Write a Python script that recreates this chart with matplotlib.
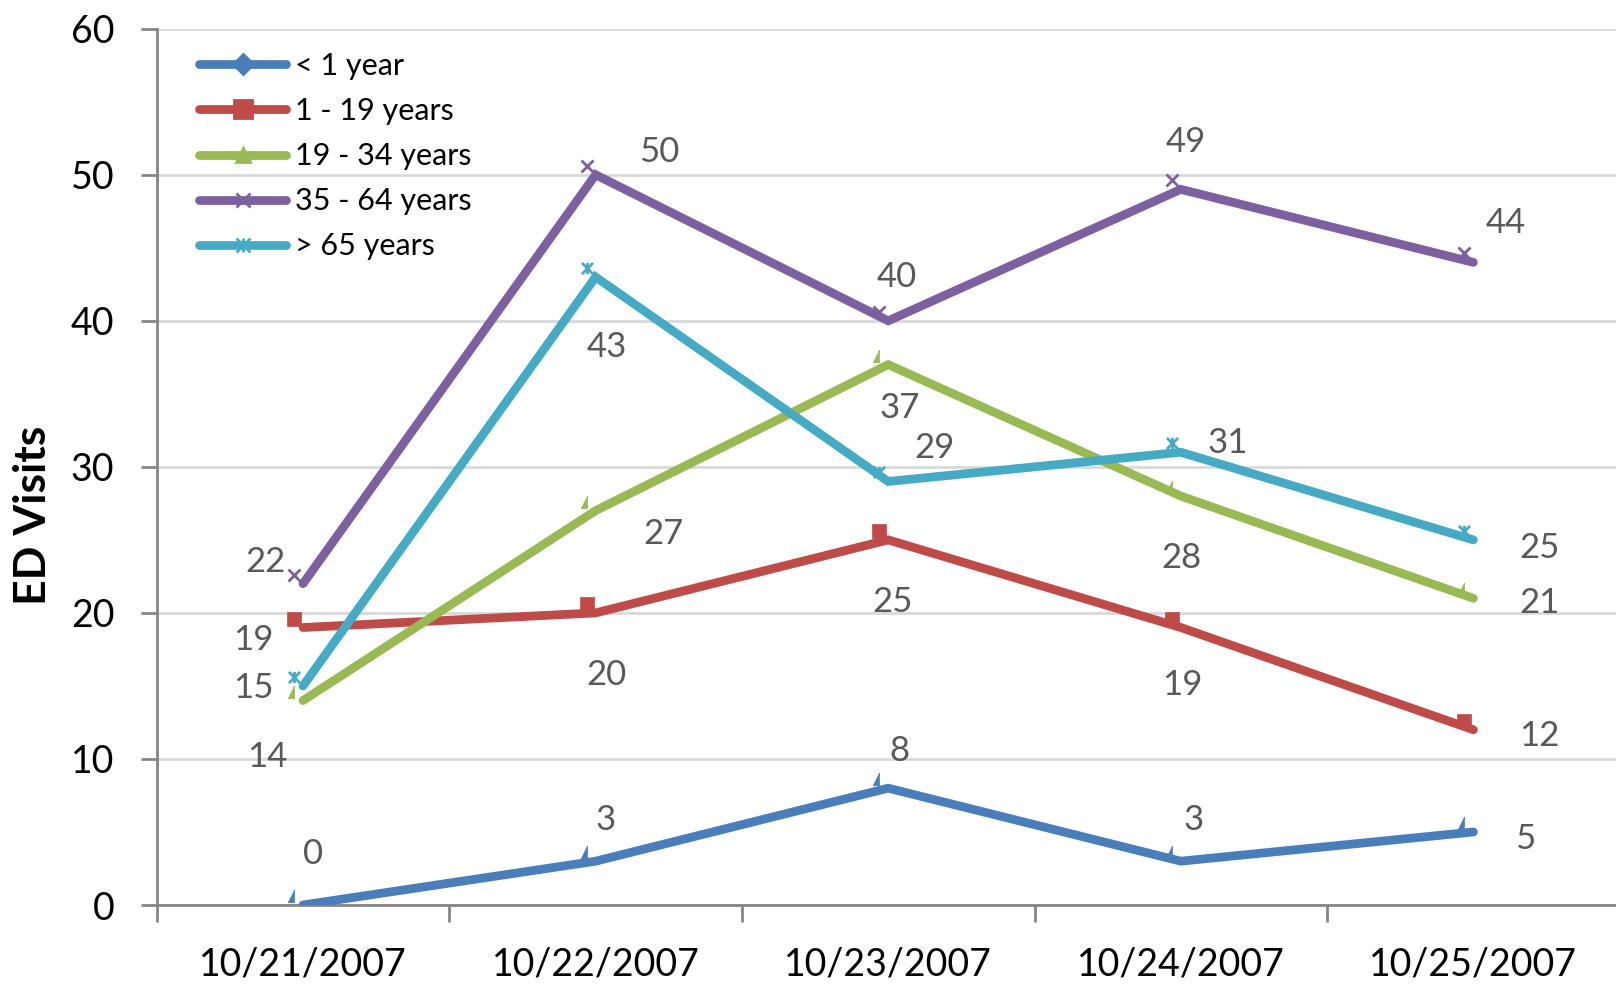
import matplotlib
matplotlib.use("Agg")
import matplotlib.pyplot as plt
from matplotlib.lines import Line2D
from matplotlib.path import Path
from matplotlib.transforms import ScaledTranslation

# ---- data ----
dates = ["10/21/2007", "10/22/2007", "10/23/2007", "10/24/2007", "10/25/2007"]
series_names = ["< 1 year", "1 - 19 years", "19 - 34 years", "35 - 64 years", "> 65 years"]
under_1 = [0, 3, 8, 3, 5]
age_1_19 = [19, 20, 25, 19, 12]
age_19_34 = [14, 27, 37, 28, 21]
age_35_64 = [22, 50, 40, 49, 44]
over_65 = [15, 43, 29, 31, 25]
y_ticks = [0, 10, 20, 30, 40, 50, 60]

series_values = [under_1, age_1_19, age_19_34, age_35_64, over_65]
colors = ["#4A7EBB", "#BE4B48", "#98B954", "#7D60A0", "#46AAC5"]

# label offsets (pixels, right / up) for each series point
label_offsets = [
    [(10, 50), (10, 40), (11, 36), (12, 40), (50, -7)],
    [(-48, -12), (11, -60), (4, -60), (1, -56), (64, -6)],
    [(-35, -55), (66, -23), (11, -42), (1, -60), (64, -5)],
    [(-36, 21), (62, 22), (8, 43), (5, 46), (31, 38)],
    [(-48, -2), (11, -68), (45, 32), (46, 9), (64, -8)],
]

# chart markers (partially hidden corner shapes, drawn just up-left of each vertex)
corner_tri = [(0, 1), (0, -1), (-1, -1), (0, 1)]
star_path = Path([(-1, -1), (1, 1), (-1, 1), (1, -1), (0, -1), (0, 1)],
                 [Path.MOVETO, Path.LINETO, Path.MOVETO, Path.LINETO, Path.MOVETO, Path.LINETO])
plot_markers = [corner_tri, "s", corner_tri, "x", star_path]
plot_msizes = [9, 10, 9, 8, 8]
legend_markers = ["D", "s", "^", "x", star_path]
legend_msizes = [10, 13, 10, 10, 10]

plt.rcParams["font.family"] = ["Lato", "DejaVu Sans"]

fig = plt.figure(figsize=(16.16, 9.94), dpi=100)
ax = fig.add_axes([156.7 / 1616, (994 - 905) / 994, 1463 / 1616, (905 - 28.7) / 994])

x = list(range(len(dates)))
dpi = fig.dpi
shift = ScaledTranslation(-9 / dpi, 9 / dpi, fig.dpi_scale_trans)

for vals, col, mk, ms in zip(series_values, colors, plot_markers, plot_msizes):
    ax.plot(x, vals, color=col, lw=6.3, solid_capstyle="round", solid_joinstyle="miter", zorder=4)
    filled = mk != "x" and not isinstance(mk, Path)
    ax.plot(x, vals, ls="none", marker=mk, markersize=ms,
            markerfacecolor=col if filled else "none", markeredgecolor=col,
            markeredgewidth=2 if not filled else 0.5,
            transform=ax.transData + shift, zorder=3, clip_on=False)

for vals, offs in zip(series_values, label_offsets):
    for xi, v, (dx, dy) in zip(x, vals, offs):
        ax.annotate(str(v), (xi, v), xytext=(dx * 1.03, dy * 1.03), textcoords="offset pixels",
                    ha="center", va="center", fontsize=25, color="#595959", zorder=5)

ax.set_xlim(-0.5, 4.5)
ax.set_ylim(0, 60)
ax.set_yticks(y_ticks)
ax.set_yticklabels([str(t) for t in y_ticks])
ax.set_xticks([i - 0.5 for i in range(len(dates) + 1)])
ax.set_xticklabels([])
ax.set_xticks(x, minor=True)
ax.set_xticklabels(dates, minor=True)

ax.grid(axis="y", color="#D9D9D9", lw=2, zorder=0)
ax.set_axisbelow(True)
for side in ["top", "right"]:
    ax.spines[side].set_visible(False)
for side in ["left", "bottom"]:
    ax.spines[side].set_color("#868686")
    ax.spines[side].set_linewidth(2)
ax.tick_params(axis="y", which="major", length=11.5, width=2, color="#868686",
               labelsize=27, pad=19, labelcolor="black")
ax.tick_params(axis="x", which="major", length=12, width=2, color="#868686")
ax.tick_params(axis="x", which="minor", length=0, labelsize=27, pad=30, labelcolor="black")

fig.text(33 / 1616, 1 - 515 / 994, "ED Visits", rotation=90, ha="center", va="center",
         fontsize=32, fontweight="bold", color="black")

handles = [Line2D([0], [0], color=c, lw=6.3, solid_capstyle="round", marker=m, markersize=s,
                  markerfacecolor=c if (m not in ("x",) and not isinstance(m, Path)) else "none",
                  markeredgecolor=c, markeredgewidth=2)
           for c, m, s in zip(colors, legend_markers, legend_msizes)]
ax.legend(handles, series_names, loc="upper left", bbox_to_anchor=(199 / 1616, 1 - 52 / 994),
          bbox_transform=fig.transFigure, frameon=False, fontsize=22, handlelength=2.85,
          handletextpad=0.3, labelspacing=0.56, borderaxespad=0, borderpad=0)

fig.savefig("out.png", dpi=100)
